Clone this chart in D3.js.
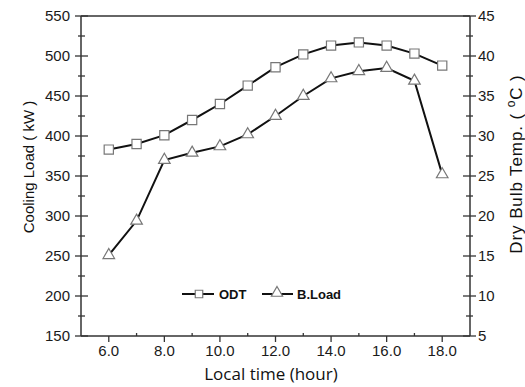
<!DOCTYPE html>
<html>
<head>
<meta charset="utf-8">
<script src="https://cdn.jsdelivr.net/npm/d3@7"></script>
<style>
html,body{margin:0;padding:0;background:#fff;}
svg{display:block;}
</style>
</head>
<body>
<svg id="chart" width="525" height="387"></svg>
<script>
// Data
const hours = [6,7,8,9,10,11,12,13,14,15,16,17,18];
const odtTemp = [28.3,29.0,30.1,32.0,34.0,36.3,38.6,40.2,41.3,41.7,41.3,40.3,38.8];
const bLoad = [251,294,370,379,387,402,425,450,472,481,485,469,352];
const xTickValues = [6,8,10,12,14,16,18];
const leftTickValues = [150,200,250,300,350,400,450,500,550];
const rightTickValues = [5,10,15,20,25,30,35,40,45];
const seriesNames = ["ODT","B.Load"];

const svg = d3.select("#chart");
const L = 81, R = 470, T = 16, B = 336;
const axisColor = "#333";
const font = "'Liberation Sans', Arial, sans-serif";

const x = d3.scaleLinear().domain([5,19]).range([L,R]);
const yL = d3.scaleLinear().domain([150,550]).range([B,T]);
const yR = d3.scaleLinear().domain([5,45]).range([B,T]);

// frame top line
svg.append("line").attr("x1",L).attr("x2",R).attr("y1",T).attr("y2",T)
  .attr("stroke",axisColor).attr("stroke-width",1.5);

// Left axis
const gL = svg.append("g").attr("transform",`translate(${L},0)`);
gL.append("line").attr("y1",T).attr("y2",B).attr("stroke",axisColor).attr("stroke-width",1.5);
const leftMinor = d3.range(175,550,50);
gL.selectAll(".maj").data(leftTickValues).join("line")
  .attr("x1",-6).attr("x2",7).attr("y1",d=>yL(d)).attr("y2",d=>yL(d))
  .attr("stroke",axisColor).attr("stroke-width",1.3);
gL.selectAll(".min").data(leftMinor).join("line")
  .attr("x1",-3).attr("x2",4).attr("y1",d=>yL(d)).attr("y2",d=>yL(d))
  .attr("stroke",axisColor).attr("stroke-width",1.3);
gL.selectAll(".lab").data(leftTickValues).join("text")
  .attr("x",-11).attr("y",d=>yL(d)).attr("dy","0.36em")
  .attr("text-anchor","end").attr("font-family",font).attr("font-size",15)
  .attr("fill","#1a1a1a").text(d=>d);

// Right axis
const gR = svg.append("g").attr("transform",`translate(${R},0)`);
gR.append("line").attr("y1",T).attr("y2",B).attr("stroke",axisColor).attr("stroke-width",1.5);
const rightMinor = d3.range(7.5,45,5);
gR.selectAll(".maj").data(rightTickValues).join("line")
  .attr("x1",-7).attr("x2",6).attr("y1",d=>yR(d)).attr("y2",d=>yR(d))
  .attr("stroke",axisColor).attr("stroke-width",1.3);
gR.selectAll(".min").data(rightMinor).join("line")
  .attr("x1",-4).attr("x2",3).attr("y1",d=>yR(d)).attr("y2",d=>yR(d))
  .attr("stroke",axisColor).attr("stroke-width",1.3);
gR.selectAll(".lab").data(rightTickValues).join("text")
  .attr("x",8).attr("y",d=>yR(d)).attr("dy","0.36em")
  .attr("text-anchor","start").attr("font-family",font).attr("font-size",15)
  .attr("fill","#1a1a1a").text(d=>d);

// Bottom axis
const gB = svg.append("g").attr("transform",`translate(0,${B})`);
gB.append("line").attr("x1",L).attr("x2",R).attr("stroke",axisColor).attr("stroke-width",1.5);
const xMinor = [7,9,11,13,15,17];
gB.selectAll(".maj").data(xTickValues).join("line")
  .attr("x1",d=>x(d)).attr("x2",d=>x(d)).attr("y1",0).attr("y2",6)
  .attr("stroke",axisColor).attr("stroke-width",1.3);
gB.selectAll(".min").data(xMinor).join("line")
  .attr("x1",d=>x(d)).attr("x2",d=>x(d)).attr("y1",-3).attr("y2",0)
  .attr("stroke",axisColor).attr("stroke-width",1.3);
gB.selectAll(".lab").data(xTickValues).join("text")
  .attr("x",d=>x(d)).attr("y",20)
  .attr("text-anchor","middle").attr("font-family",font).attr("font-size",15)
  .attr("fill","#1a1a1a").text(d=>d.toFixed(1));

// Axis titles
svg.append("text").attr("transform","translate(34,167) rotate(-90)")
  .attr("text-anchor","middle").attr("font-family",font).attr("font-size",15)
  .attr("fill","#111").text("Cooling Load ( kW )");
const rt = svg.append("text").attr("transform","translate(522,164) rotate(-90)")
  .attr("text-anchor","middle").attr("font-family",font).attr("font-size",17)
  .attr("letter-spacing",0.9).attr("fill","#111");
rt.append("tspan").text("Dry Bulb Temp. ( ");
rt.append("tspan").attr("font-size",12).attr("dy",-7).text("o");
rt.append("tspan").attr("dy",7).text("C )");
svg.append("text").attr("x",271).attr("y",380)
  .attr("text-anchor","middle").attr("font-family","'Open Sans', sans-serif").attr("font-size",17)
  .attr("fill","#111").text("Local time (hour)");

// Lines
const lineODT = d3.line().x((d,i)=>x(hours[i])).y(d=>yR(d));
const lineLoad = d3.line().x((d,i)=>x(hours[i])).y(d=>yL(d));
svg.append("path").attr("d",lineODT(odtTemp)).attr("fill","none").attr("stroke","#111").attr("stroke-width",2);
svg.append("path").attr("d",lineLoad(bLoad)).attr("fill","none").attr("stroke","#111").attr("stroke-width",2);

const markColor = "#777";
const sq = d3.symbol().type(d3.symbolSquare).size(85);
const tri = d3.symbol().type(d3.symbolTriangle).size(58);
svg.selectAll(".sq").data(odtTemp).join("path")
  .attr("transform",(d,i)=>`translate(${x(hours[i])},${yR(d)})`)
  .attr("d",sq).attr("fill","#fff").attr("stroke",markColor).attr("stroke-width",1.2);
svg.selectAll(".tri").data(bLoad).join("path")
  .attr("transform",(d,i)=>`translate(${x(hours[i])},${yL(d)})`)
  .attr("d",tri).attr("fill","#fff").attr("stroke",markColor).attr("stroke-width",1.2);

// Legend
const lg = svg.append("g").attr("transform","translate(0,294)");
lg.append("line").attr("x1",182).attr("x2",214).attr("stroke","#111").attr("stroke-width",2);
lg.append("path").attr("transform","translate(199,0)").attr("d",d3.symbol().type(d3.symbolSquare).size(56)())
  .attr("fill","#fff").attr("stroke",markColor).attr("stroke-width",1.2);
lg.append("text").attr("x",219).attr("y",0).attr("dy","0.36em").attr("font-family",font)
  .attr("font-weight","bold").attr("font-size",13).attr("fill","#111").text(seriesNames[0]);
lg.append("line").attr("x1",262).attr("x2",293).attr("stroke","#111").attr("stroke-width",2);
lg.append("path").attr("transform","translate(277,-1)").attr("d",d3.symbol().type(d3.symbolTriangle).size(55)())
  .attr("fill","#fff").attr("stroke",markColor).attr("stroke-width",1.2);
lg.append("text").attr("x",297).attr("y",0).attr("dy","0.36em").attr("font-family",font)
  .attr("font-weight","bold").attr("font-size",13).attr("fill","#111").text(seriesNames[1]);
</script>
</body>
</html>
